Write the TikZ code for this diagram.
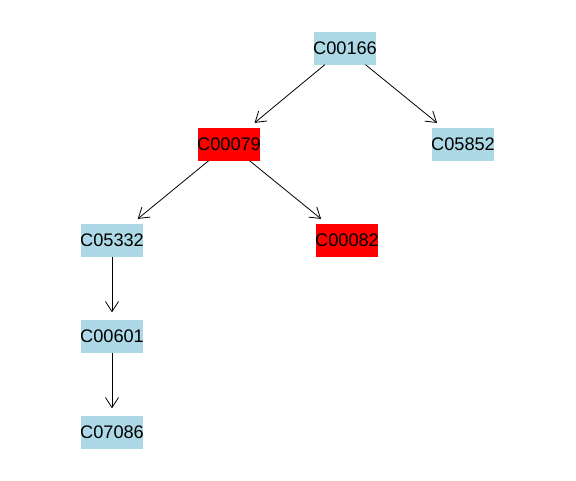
\documentclass[tikz,border=0pt]{standalone}
\usepackage{fontspec}
\setmainfont{Liberation Sans}
\usetikzlibrary{arrows.meta}
\definecolor{nodeblue}{RGB}{173,216,230}
\definecolor{nodered}{RGB}{255,0,0}
\newcommand{\boxlbl}[1]{\makebox[62pt][c]{#1}}
\begin{document}
\begin{tikzpicture}[x=1pt,y=-1pt,
  cnode/.style={rectangle,inner sep=0pt,minimum width=62pt,minimum height=33pt,font=\fontsize{18.2}{20}\selectfont,text=black},
  bluenode/.style={cnode,fill=nodeblue},
  rednode/.style={cnode,fill=nodered},
  edge/.style={draw=black,line width=0.8pt,-{Straight Barb[length=10pt,width=13pt,line width=0.8pt]},shorten >=7pt}]
\useasboundingbox (0,0) rectangle (576,480);
\node[bluenode] (a) at (345,48) {\boxlbl{C00166}};
\node[rednode] (b) at (229,144) {\boxlbl{C00079}};
\node[bluenode] (c) at (463,144) {\boxlbl{C05852}};
\node[bluenode] (d) at (112,240) {\boxlbl{C05332}};
\node[rednode] (e) at (347,240) {\boxlbl{C00082}};
\node[bluenode] (f) at (112,336) {\boxlbl{C00601}};
\node[bluenode] (g) at (112,432) {\boxlbl{C07086}};
\draw[edge] (a) -- (b);
\draw[edge] (a) -- (c);
\draw[edge] (b) -- (d);
\draw[edge] (b) -- (e);
\draw[edge] (d) -- (f);
\draw[edge] (f) -- (g);
\end{tikzpicture}
\end{document}
